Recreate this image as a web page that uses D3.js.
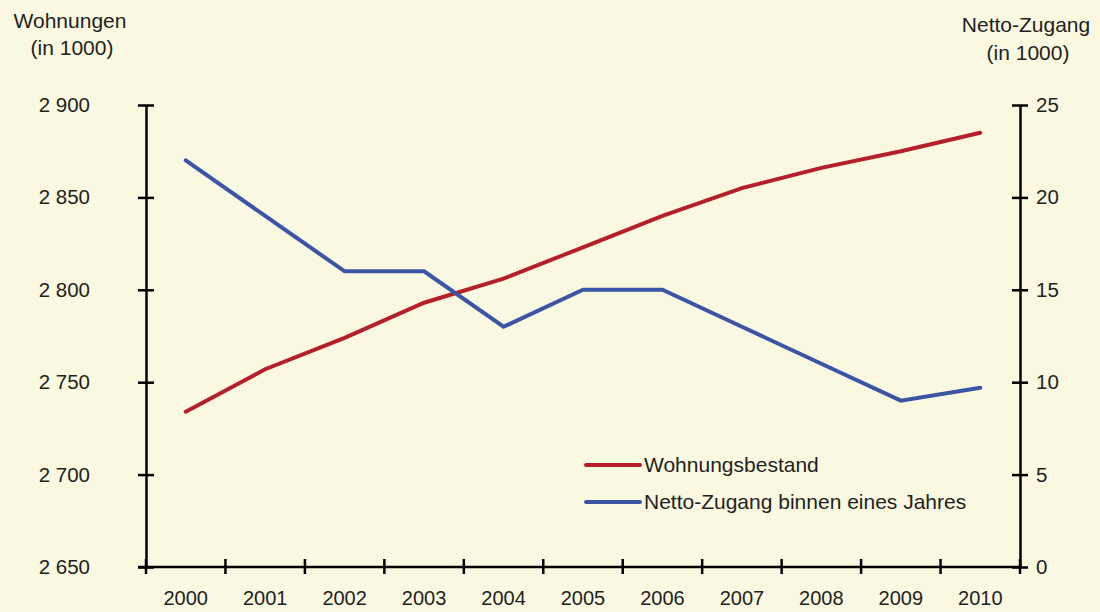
<!DOCTYPE html>
<html>
<head>
<meta charset="utf-8">
<script src="https://cdnjs.cloudflare.com/ajax/libs/d3/7.8.5/d3.min.js"></script>
<style>
  html, body { margin: 0; padding: 0; background: #faf8e0; }
  text { font-family: "Liberation Sans", Arial, sans-serif; fill: #231f20; }
</style>
</head>
<body>
<svg id="chart"></svg>
<script>
var years = ["2000", "2001", "2002", "2003", "2004", "2005", "2006", "2007", "2008", "2009", "2010"];
var bestand = [2734, 2757, 2774, 2793, 2806, 2823, 2840, 2855, 2866, 2875, 2885];
var zugang = [22, 19, 16, 16, 13, 15, 15, 13, 11, 9, 9.7];
var leftTicks = [2650, 2700, 2750, 2800, 2850, 2900];
var rightTicks = [0, 5, 10, 15, 20, 25];

var width = 1100, height = 612;
var mLeft = 146, mRight = 1020, mTop = 105, mBottom = 567;

var svg = d3.select("#chart")
    .attr("width", width)
    .attr("height", height);

svg.append("rect")
    .attr("width", width)
    .attr("height", height)
    .style("fill", "#faf8e0");

var x = d3.scaleBand().domain(years).range([mLeft, mRight]);
var yL = d3.scaleLinear().domain([2650, 2900]).range([mBottom, mTop]);
var yR = d3.scaleLinear().domain([0, 25]).range([mBottom, mTop]);

// axes with crossing tick marks
function styleAxis(g) {
    g.select(".domain").attr("stroke", "#000").attr("stroke-width", 2.5);
    g.selectAll(".tick line").attr("stroke", "#000").attr("stroke-width", 2.5);
    g.selectAll(".tick text").style("font-size", "20.5px").style("fill", "#231f20")
        .style("font-family", "Liberation Sans, Arial, sans-serif");
}

var axL = svg.append("g")
    .attr("transform", "translate(" + mLeft + ",0)")
    .call(d3.axisLeft(yL).tickValues(leftTicks).tickSizeInner(8).tickSizeOuter(0).tickPadding(48)
        .tickFormat(function(d) { return d3.format(",")(d).replace(",", " "); }));
axL.selectAll(".tick line").attr("x2", 8).attr("x1", -8);
styleAxis(axL);

var axR = svg.append("g")
    .attr("transform", "translate(" + mRight + ",0)")
    .call(d3.axisRight(yR).tickValues(rightTicks).tickSizeInner(8).tickSizeOuter(0).tickPadding(8));
axR.selectAll(".tick line").attr("x1", -8).attr("x2", 8);
styleAxis(axR);

// x axis: ticks at band boundaries, labels at band centers
var bounds = years.map(function(d) { return x(d); }).concat([mRight]);
var axB = svg.append("g").attr("transform", "translate(0," + mBottom + ")");
axB.append("line")
    .attr("x1", mLeft - 8).attr("x2", mRight)
    .attr("stroke", "#000").attr("stroke-width", 2.5);
axB.selectAll(".xt").data(bounds).enter().append("line")
    .attr("x1", function(d) { return d; }).attr("x2", function(d) { return d; })
    .attr("y1", -8).attr("y2", 7)
    .attr("stroke", "#000").attr("stroke-width", 2.5);
axB.selectAll(".xl").data(years).enter().append("text")
    .attr("x", function(d) { return x(d) + x.bandwidth() / 2; })
    .attr("y", 38)
    .attr("text-anchor", "middle")
    .style("font-size", "20px")
    .text(function(d) { return d; });

// lines
var lineL = d3.line()
    .x(function(d, i) { return x(years[i]) + x.bandwidth() / 2; })
    .y(function(d) { return yL(d); });
var lineR = d3.line()
    .x(function(d, i) { return x(years[i]) + x.bandwidth() / 2; })
    .y(function(d) { return yR(d); });

svg.append("path")
    .datum(bestand)
    .attr("d", lineL)
    .style("fill", "none")
    .style("stroke", "#b51f2a")
    .style("stroke-width", 4)
    .style("stroke-linecap", "round");

svg.append("path")
    .datum(zugang)
    .attr("d", lineR)
    .style("fill", "none")
    .style("stroke", "#3a55a6")
    .style("stroke-width", 4)
    .style("stroke-linecap", "round");

// axis titles
svg.append("text").attr("x", 70).attr("y", 28).attr("text-anchor", "middle")
    .style("font-size", "21px").text("Wohnungen");
svg.append("text").attr("x", 72).attr("y", 55).attr("text-anchor", "middle")
    .style("font-size", "21px").text("(in 1000)");
svg.append("text").attr("x", 1026).attr("y", 32).attr("text-anchor", "middle")
    .style("font-size", "21px").text("Netto-Zugang");
svg.append("text").attr("x", 1028).attr("y", 60).attr("text-anchor", "middle")
    .style("font-size", "21px").text("(in 1000)");

// legend
var legend = [
    { name: "Wohnungsbestand", color: "#b51f2a", y: 465 },
    { name: "Netto-Zugang binnen eines Jahres", color: "#3a55a6", y: 502 }
];
var lg = svg.selectAll(".legend").data(legend).enter().append("g");
lg.append("line")
    .attr("x1", 586).attr("x2", 640)
    .attr("y1", function(d) { return d.y; }).attr("y2", function(d) { return d.y; })
    .style("stroke", function(d) { return d.color; })
    .style("stroke-width", 4)
    .style("stroke-linecap", "round");
lg.append("text")
    .attr("x", 644)
    .attr("y", function(d) { return d.y; })
    .attr("dy", ".35em")
    .style("font-size", "21px")
    .text(function(d) { return d.name; });
</script>
</body>
</html>
